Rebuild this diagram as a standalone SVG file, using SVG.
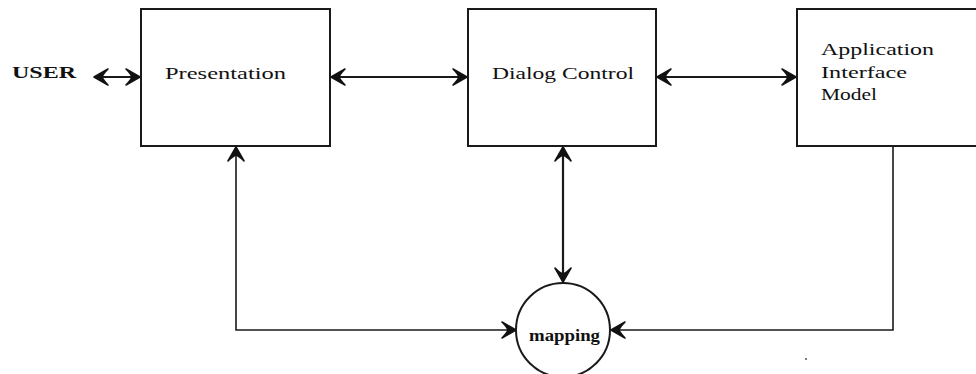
<svg xmlns="http://www.w3.org/2000/svg" width="976" height="374" viewBox="0 0 976 374">
  <style>
    .box { fill: #fff; stroke: #1a1a1a; stroke-width: 2; }
    .lbl { font-family: "Liberation Serif", "DejaVu Serif", serif; font-size: 17px; fill: #111; }
    .conn { fill: none; stroke: #1a1a1a; stroke-width: 1.6; }
    .thick { stroke-width: 2.2; }
  </style>
  <defs>
    <!-- barbed arrowhead, used at both ends of the two-way links -->
    <marker id="barb" viewBox="-17 -10 19 20" refX="0" refY="0" markerWidth="19" markerHeight="20" markerUnits="userSpaceOnUse" orient="auto-start-reverse">
      <path d="M0,0 L-14,-8 Q-9,-3 -8,0 Q-9,3 -14,8 Z" fill="#111" stroke="#111" stroke-width="1.6" stroke-linejoin="round"/>
    </marker>
  </defs>

  <rect width="976" height="374" fill="#fff"/>

  <!-- connectors -->
  <g id="connectors">
    <line class="conn thick" x1="94" y1="77" x2="140" y2="77" marker-start="url(#barb)" marker-end="url(#barb)"/>
    <line class="conn thick" x1="331" y1="77" x2="467" y2="77" marker-start="url(#barb)" marker-end="url(#barb)"/>
    <line class="conn thick" x1="657" y1="77" x2="796" y2="77" marker-start="url(#barb)" marker-end="url(#barb)"/>
    <polyline class="conn" points="516,330 236,330 236,147" marker-start="url(#barb)" marker-end="url(#barb)"/>
    <line class="conn thick" x1="563" y1="147" x2="563" y2="282" marker-start="url(#barb)" marker-end="url(#barb)"/>
    <polyline class="conn" points="893,146 893,330 611,330" marker-end="url(#barb)"/>
  </g>

  <!-- user label -->
  <g id="user">
    <text class="lbl" x="12" y="78" font-weight="bold" textLength="64" lengthAdjust="spacingAndGlyphs">USER</text>
  </g>

  <g id="presentation">
    <rect class="box" x="141" y="9" width="189" height="137"/>
    <text class="lbl" x="165" y="79" textLength="121" lengthAdjust="spacingAndGlyphs">Presentation</text>
  </g>

  <g id="dialog-control">
    <rect class="box" x="468" y="9" width="188" height="137"/>
    <text class="lbl" x="492" y="79" textLength="142" lengthAdjust="spacingAndGlyphs">Dialog Control</text>
  </g>

  <g id="application-interface-model">
    <rect class="box" x="797" y="9" width="190" height="137"/>
    <text class="lbl" x="821" y="55" textLength="113" lengthAdjust="spacingAndGlyphs">Application</text>
    <text class="lbl" x="821" y="78" textLength="86" lengthAdjust="spacingAndGlyphs">Interface</text>
    <text class="lbl" x="821" y="100" textLength="56" lengthAdjust="spacingAndGlyphs">Model</text>
  </g>

  <g id="mapping">
    <circle cx="563" cy="330" r="47" fill="#fff" stroke="#1a1a1a" stroke-width="2"/>
    <text class="lbl" x="529" y="341" font-size="14" font-weight="bold" textLength="71" lengthAdjust="spacingAndGlyphs">mapping</text>
  </g>

  <circle cx="806" cy="359" r="1" fill="#555"/>
</svg>
